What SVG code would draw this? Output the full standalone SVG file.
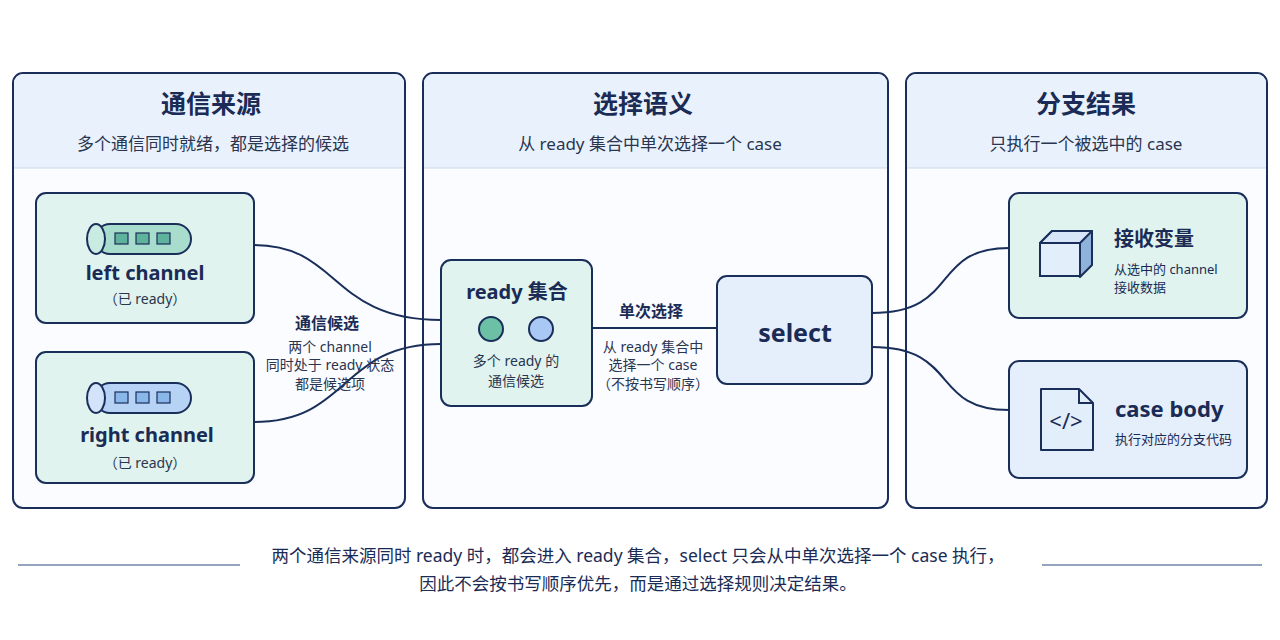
<svg xmlns="http://www.w3.org/2000/svg" width="1280" height="640" viewBox="0 0 1280 640">
<style>
text{font-family:"Noto Sans","Noto Sans CJK SC",sans-serif;fill:#1a2b55}
.panel{fill:#fafcff;stroke:#1a2e5a;stroke-width:2}
.band{fill:#e9f2fc}
.h{font-size:25px;font-weight:700;text-anchor:middle}
.sub{font-size:17px;text-anchor:middle;fill:#2a3550}
.green{fill:#e0f3ee;stroke:#1a2e5a;stroke-width:2}
.blue{fill:#e5eefb;stroke:#1a2e5a;stroke-width:2}
.t{font-size:20px;font-weight:700;text-anchor:middle}
.s{font-size:14px;text-anchor:middle;fill:#2a3550}
.conn{fill:none;stroke:#1a2e5a;stroke-width:2}
</style>
<rect width="1280" height="640" fill="#ffffff"/>
<g id="panel-source">
<rect class="panel" x="13" y="73" width="392" height="435" rx="10"/>
<path class="band" d="M14 168V83a9 9 0 0 1 9-9h372a9 9 0 0 1 9 9v85z"/>
<line x1="14" y1="168" x2="404" y2="168" stroke="#c9d8ea" stroke-width="1"/>
<text class="h" x="211" y="113">通信来源</text>
<text class="sub" x="213" y="150">多个通信同时就绪，都是选择的候选</text>
</g>
<g id="panel-semantics">
<rect class="panel" x="423" y="73" width="465" height="435" rx="10"/>
<path class="band" d="M424 168V83a9 9 0 0 1 9-9h445a9 9 0 0 1 9 9v85z"/>
<line x1="424" y1="168" x2="887" y2="168" stroke="#c9d8ea" stroke-width="1"/>
<text class="h" x="643" y="113">选择语义</text>
<text class="sub" x="650" y="150">从 ready 集合中单次选择一个 case</text>
</g>
<g id="panel-result">
<rect class="panel" x="906" y="73" width="361" height="435" rx="10"/>
<path class="band" d="M907 168V83a9 9 0 0 1 9-9h341a9 9 0 0 1 9 9v85z"/>
<line x1="907" y1="168" x2="1266" y2="168" stroke="#c9d8ea" stroke-width="1"/>
<text class="h" x="1086" y="113">分支结果</text>
<text class="sub" x="1086" y="150">只执行一个被选中的 case</text>
</g>
<g id="connectors">
<path class="conn" d="M254 245C340 245 330 320 441 320"/>
<path class="conn" d="M254 422C350 422 340 344 441 344"/>
<line class="conn" x1="592" y1="328" x2="717" y2="328"/>
<path class="conn" d="M872 313C960 313 930 248 1009 248"/>
<path class="conn" d="M872 347C960 347 930 410 1009 410"/>
</g>
<g id="edge-label-candidates">
<text x="327" y="329" font-size="16" font-weight="700" text-anchor="middle">通信候选</text>
<text class="s" x="330" y="352">两个 channel</text>
<text class="s" x="330" y="370">同时处于 ready 状态</text>
<text class="s" x="330" y="389">都是候选项</text>
</g>
<g id="edge-label-single">
<text x="651" y="317" font-size="16" font-weight="700" text-anchor="middle">单次选择</text>
<text class="s" x="653" y="352">从 ready 集合中</text>
<text class="s" x="653" y="370">选择一个 case</text>
<text class="s" x="653" y="389">（不按书写顺序）</text>
</g>
<g id="left-channel">
<rect class="green" x="36" y="193" width="218" height="130" rx="10"/>
<rect x="95" y="224" width="96" height="30" rx="15" fill="#a8dccd" stroke="#1a2e5a" stroke-width="2"/>
<ellipse cx="96" cy="239" rx="9" ry="15" fill="#c9ebe2" stroke="#1a2e5a" stroke-width="2"/>
<rect x="115" y="233" width="13" height="11" fill="#5fb39c" stroke="#1a2e5a" stroke-width="1.2"/>
<rect x="136" y="233" width="13" height="11" fill="#5fb39c" stroke="#1a2e5a" stroke-width="1.2"/>
<rect x="157" y="233" width="13" height="11" fill="#5fb39c" stroke="#1a2e5a" stroke-width="1.2"/>
<text class="t" x="145" y="280">left channel</text>
<text class="s" x="145" y="304">（已 ready）</text>
</g>
<g id="right-channel">
<rect class="green" x="36" y="352" width="218" height="131" rx="10"/>
<rect x="95" y="383" width="96" height="30" rx="15" fill="#b6d3f5" stroke="#1a2e5a" stroke-width="2"/>
<ellipse cx="96" cy="398" rx="9" ry="15" fill="#d3e4fa" stroke="#1a2e5a" stroke-width="2"/>
<rect x="115" y="392" width="13" height="11" fill="#8ab7ea" stroke="#1a2e5a" stroke-width="1.2"/>
<rect x="136" y="392" width="13" height="11" fill="#8ab7ea" stroke="#1a2e5a" stroke-width="1.2"/>
<rect x="157" y="392" width="13" height="11" fill="#8ab7ea" stroke="#1a2e5a" stroke-width="1.2"/>
<text class="t" x="147" y="442">right channel</text>
<text class="s" x="145" y="468">（已 ready）</text>
</g>
<g id="ready-set">
<rect class="green" x="441" y="260" width="151" height="146" rx="10"/>
<text class="t" x="517" y="299">ready 集合</text>
<circle cx="491" cy="329" r="12" fill="#6cc0a6" stroke="#1a2e5a" stroke-width="2"/>
<circle cx="541" cy="329" r="12" fill="#a9c8f4" stroke="#1a2e5a" stroke-width="2"/>
<text class="s" x="516" y="366">多个 ready 的</text>
<text class="s" x="516" y="386">通信候选</text>
</g>
<g id="select">
<rect class="blue" x="717" y="276" width="155" height="108" rx="10"/>
<text x="795" y="342" font-size="25" font-weight="700" text-anchor="middle">select</text>
</g>
<g id="recv-var">
<rect class="green" x="1009" y="193" width="238" height="125" rx="10"/>
<path d="M1040 243l12-12h40v34l-12 12z" fill="#8fb2da" stroke="#1a2e5a" stroke-width="2" stroke-linejoin="round"/>
<path d="M1040 243l12-12h40l-12 12z" fill="#d7e6f8" stroke="#1a2e5a" stroke-width="2" stroke-linejoin="round"/>
<rect x="1040" y="243" width="40" height="33" fill="#e3eefb" stroke="#1a2e5a" stroke-width="2"/>
<text x="1114" y="246" font-size="20" font-weight="700">接收变量</text>
<text x="1114" y="274" font-size="13" fill="#2a3550">从选中的 channel</text>
<text x="1114" y="292" font-size="13" fill="#2a3550">接收数据</text>
</g>
<g id="case-body">
<rect class="blue" x="1009" y="361" width="238" height="117" rx="10"/>
<path d="M1041 389h38l14 14v47h-52z" fill="#e3eefb" stroke="#1a2e5a" stroke-width="2" stroke-linejoin="round"/>
<path d="M1079 389v14h14" fill="none" stroke="#1a2e5a" stroke-width="2"/>
<text x="1066" y="429" font-size="22" text-anchor="middle">&lt;/&gt;</text>
<text x="1115" y="417" font-size="22" font-weight="700">case body</text>
<text x="1115" y="444" font-size="13" fill="#2a3550">执行对应的分支代码</text>
</g>
<g id="footer">
<line x1="18" y1="565" x2="240" y2="565" stroke="#2a4a7a" stroke-width="1"/>
<line x1="1042" y1="565" x2="1262" y2="565" stroke="#2a4a7a" stroke-width="1"/>
<text x="638" y="562" font-size="17.5" text-anchor="middle">两个通信来源同时 ready 时，都会进入 ready 集合，select 只会从中单次选择一个 case 执行，</text>
<text x="638" y="590" font-size="17.5" text-anchor="middle">因此不会按书写顺序优先，而是通过选择规则决定结果。</text>
</g>
</svg>
